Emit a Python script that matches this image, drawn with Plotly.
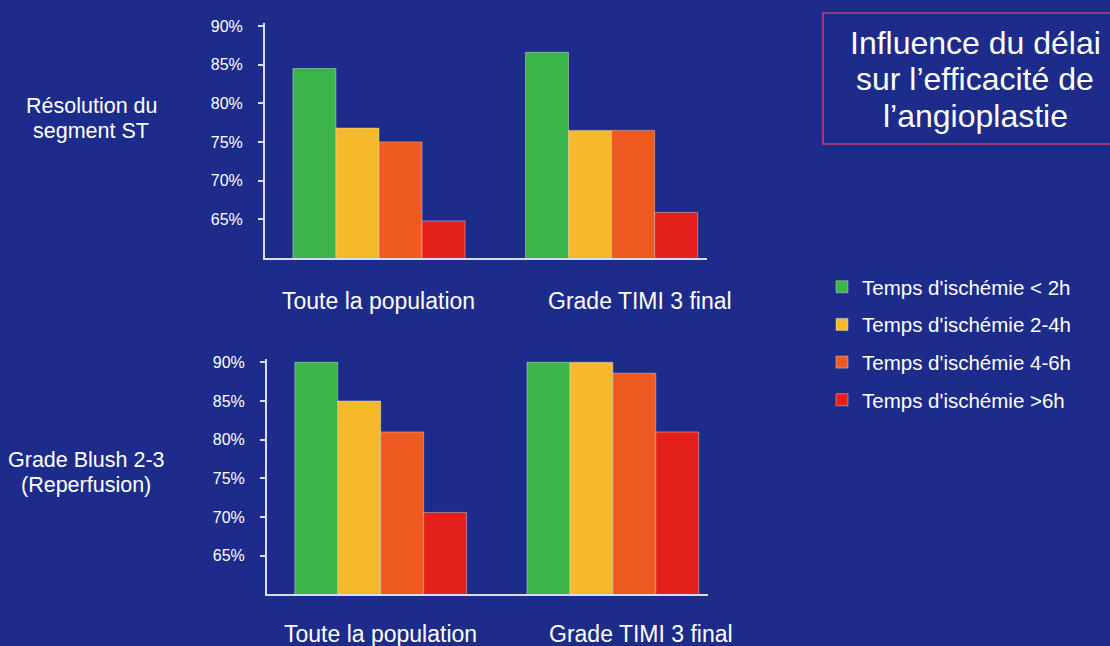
import plotly.graph_objects as go
from plotly.subplots import make_subplots

categories = ["Toute la population", "Grade TIMI 3 final"]
series_names = ["Temps d'ischémie < 2h", "Temps d'ischémie 2-4h",
                "Temps d'ischémie 4-6h", "Temps d'ischémie >6h"]

# Résolution du segment ST (%)
st_lt2 = [84.5, 86.6]
st_2_4 = [76.8, 76.5]
st_4_6 = [75.0, 76.5]
st_gt6 = [64.8, 65.9]

# Grade Blush 2-3 (%)
blush_lt2 = [90.0, 90.0]
blush_2_4 = [85.0, 90.0]
blush_4_6 = [81.0, 88.6]
blush_gt6 = [70.6, 81.0]

tick_vals = [65, 70, 75, 80, 85, 90]
tick_text = ["65%", "70%", "75%", "80%", "85%", "90%"]

row_labels = [["Résolution du", "segment ST"], ["Grade Blush 2-3", "(Reperfusion)"]]
title_lines = ["Influence du délai", "sur l’efficacité de", "l’angioplastie"]

colors = ["#3bb54a", "#f6b92c", "#ee5a1f", "#e4201c"]
bg = "#1d2b8b"
axis_col = "#dcdcf0"
font_family = "Liberation Sans, Arial, sans-serif"
W, H = 1110, 646

fig = make_subplots(rows=2, cols=1)

top = [st_lt2, st_2_4, st_4_6, st_gt6]
bottom = [blush_lt2, blush_2_4, blush_4_6, blush_gt6]

for i, name in enumerate(series_names):
    fig.add_trace(go.Bar(x=categories, y=top[i], name=name, marker_color=colors[i],
                         marker_line=dict(color="rgba(230,230,200,0.45)", width=1),
                         legendgroup=name, showlegend=True), row=1, col=1)
for i, name in enumerate(series_names):
    fig.add_trace(go.Bar(x=categories, y=bottom[i], name=name, marker_color=colors[i],
                         marker_line=dict(color="rgba(230,230,200,0.45)", width=1),
                         legendgroup=name, showlegend=False), row=2, col=1)

yaxis_style = dict(range=[60, 90.4], tickvals=tick_vals, ticktext=tick_text,
                   showgrid=False, zeroline=False, showline=True, linecolor=axis_col,
                   linewidth=2, ticks="outside", ticklen=5, tickwidth=2, tickcolor=axis_col,
                   ticklabelstandoff=12,
                   tickfont=dict(size=16, color="white", family=font_family))
xaxis_style = dict(range=[-0.49, 1.41], showgrid=False, zeroline=False, showline=True,
                   linecolor=axis_col, linewidth=2, showticklabels=False, ticks="")

fig.update_layout(
    xaxis=dict(domain=[265 / W, 707 / W], anchor="y", **xaxis_style),
    yaxis=dict(domain=[1 - 255 / H, 1 - 18 / H], anchor="x", **yaxis_style),
    xaxis2=dict(domain=[267 / W, 708 / W], anchor="y2", **xaxis_style),
    yaxis2=dict(domain=[1 - 594 / H, 1 - 357 / H], anchor="x2", **yaxis_style),
)

annotations = []
# category labels under each chart
label_pos = [0, 1.12]
for xref, ypx in [("x", 298), ("x2", 634)]:
    for k, cat in enumerate(categories):
        annotations.append(dict(x=label_pos[k], y=1 - ypx / H, xref=xref, yref="paper",
                                text=cat, showarrow=False, xanchor="center", yanchor="middle",
                                font=dict(size=23, color="white", family=font_family)))

# row labels on the left
for lines, cx, cy in [(row_labels[0], 91, 102), (row_labels[1], 86, 459)]:
    for j, line in enumerate(lines):
        annotations.append(dict(x=cx / W, y=1 - (cy + 25 * j) / H, xref="paper", yref="paper",
                                text=line, showarrow=False, xanchor="center", yanchor="middle",
                                font=dict(size=21.5, color="white", family=font_family)))

# title box text
for j, line in enumerate(title_lines):
    annotations.append(dict(x=975 / W, y=1 - (38 + 37 * j) / H, xref="paper", yref="paper",
                            text=line, showarrow=False, xanchor="center", yanchor="middle",
                            font=dict(size=32, color="white", family=font_family)))

fig.update_layout(
    width=W, height=H,
    margin=dict(l=0, r=0, t=0, b=0),
    paper_bgcolor=bg, plot_bgcolor=bg,
    barmode="group", bargap=0.26, bargroupgap=0.0,
    font=dict(family=font_family, color="white"),
    annotations=annotations,
    shapes=[dict(type="rect", xref="paper", yref="paper",
                 x0=823 / W, x1=1.01, y0=1 - 140 / H, y1=1 - 8 / H,
                 line=dict(color="#c8406e", width=1.5))],
    legend=dict(x=822 / W, y=1 - 264 / H, xanchor="left", yanchor="top",
                bgcolor="rgba(0,0,0,0)", tracegroupgap=8,
                font=dict(size=20.5, color="white", family=font_family)),
)

fig.write_html("out.html", config={"displayModeBar": False},
               post_script="document.body.style.margin='0';")
